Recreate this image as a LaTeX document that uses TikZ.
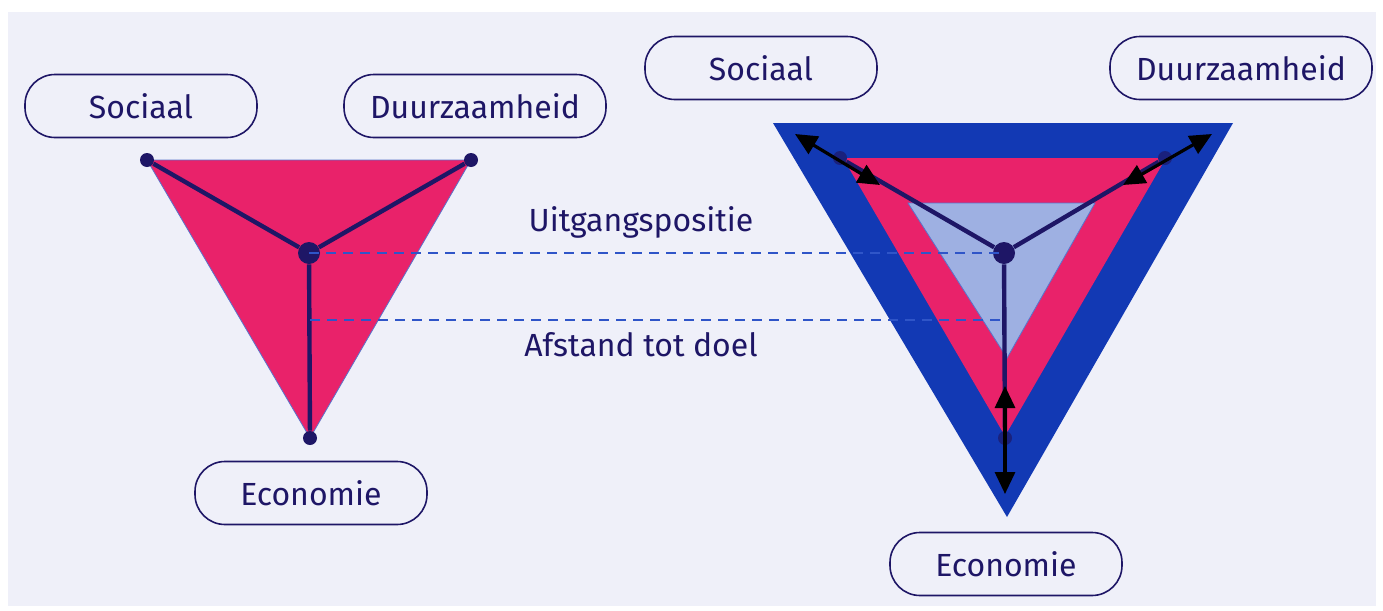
\documentclass[tikz,border=0pt]{standalone}
\usepackage{fontspec}
\setmainfont{Fira Sans}
\usetikzlibrary{arrows.meta}
\definecolor{panel}{HTML}{EFF0F9}
\definecolor{navy}{HTML}{1E1666}
\definecolor{rose}{HTML}{E9226A}
\definecolor{royal}{HTML}{1239B4}
\definecolor{pale}{HTML}{9EB0E2}
\definecolor{dashblue}{HTML}{2F55C8}
\begin{document}
\begin{tikzpicture}[x=0.5pt,y=-0.5pt,
    pill/.style={draw=navy,line width=0.8pt,rounded corners=15pt,minimum width=116pt,
      minimum height=31.5pt,text=navy,font=\fontsize{16}{18}\selectfont},
    dot/.style={circle,fill=navy,inner sep=0pt,minimum size=7pt},
    hub/.style={circle,fill=navy,inner sep=0pt,minimum size=11pt},
    spoke/.style={navy,line width=2.2pt},
    guide/.style={dashblue,line width=0.7pt,dash pattern=on 5pt off 3.5pt},
    push/.style={black,line width=1.6pt,arrows={Triangle[length=11pt,width=10pt]-Triangle[length=11pt,width=10pt]}},
    caption/.style={text=navy,font=\fontsize{16}{18}\selectfont}]
  \useasboundingbox (0,0) rectangle (1383,611);
  \fill[panel] (8,12) rectangle (1376,606);

  % left triangle
  \fill[rose,draw=royal!70,line width=0.4pt] (147,160) -- (471,160) -- (310,438) -- cycle;
  \draw
    (147,160) node[dot] (ls){}
    (471,160) node[dot] (ld){}
    (310,438) node[dot] (le){}
    (309,253) node[hub] (lc){};
  \coordinate (lg) at (310,320);
  \begin{scope}[spoke]
    \draw (lc) to (ls);
    \draw (lc) to (ld);
    \draw (lc) to (le);
  \end{scope}

  % right triangle
  \fill[royal] (773,123) -- (1233,123) -- (1007,517) -- cycle;
  \fill[rose] (843,158) -- (1166,158) -- (1005,436) -- cycle;
  \fill[pale,draw=royal!70,line width=0.4pt] (908,203) -- (1095,203) -- (1007,358) -- cycle;
  \draw
    (840,158) node[dot,fill=navy!70!royal] (rs){}
    (1165,158) node[dot,fill=navy!70!royal] (rd){}
    (1005,438) node[dot,fill=navy!70!royal] (re){}
    (1004,253) node[hub] (rc){};
  \coordinate (rg) at (1005,320);
  \begin{scope}[spoke]
    \draw (rc) to (rs);
    \draw (rc) to (rd);
    \draw (rc) to (re);
  \end{scope}

  % arrows
  \coordinate (as1) at (795,134);
  \coordinate (as2) at (880,185);
  \coordinate (ad1) at (1212,134);
  \coordinate (ad2) at (1123,185);
  \coordinate (ae1) at (1005,386);
  \coordinate (ae2) at (1005,494);
  \draw[push] (as1) to (as2);
  \draw[push] (ad1) to (ad2);
  \draw[push] (ae1) to (ae2);

  % guides
  \draw[guide] (lc.center) to (rc.center);
  \draw[guide] (lg) to (rg);
  \node[caption] (start) at (641,222) {Uitgangspositie};
  \node[caption] (goal) at (641,345) {Afstand tot doel};

  % labels
  \node[pill] (lsoc) at (141,106) {Sociaal};
  \node[pill,minimum width=131pt] (ldur) at (475,106) {Duurzaamheid};
  \node[pill] (leco) at (311,493) {Economie};
  \node[pill] (rsoc) at (761,68) {Sociaal};
  \node[pill,minimum width=131pt] (rdur) at (1241,68) {Duurzaamheid};
  \node[pill] (reco) at (1006,564) {Economie};
\end{tikzpicture}
\end{document}
